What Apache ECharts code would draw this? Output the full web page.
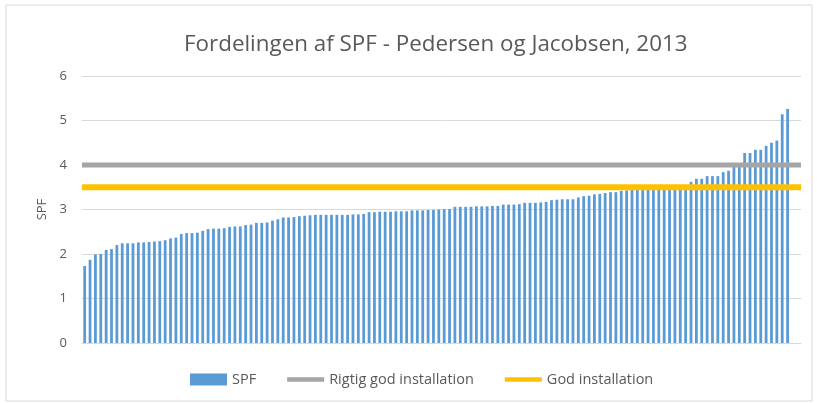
<!DOCTYPE html>
<html>
<head>
<meta charset="utf-8">
<script src="https://cdn.jsdelivr.net/npm/echarts@6/dist/echarts.min.js"></script>
<style>
  html, body { margin: 0; padding: 0; background: #fff; }
  #chart { width: 817px; height: 403px; }
</style>
</head>
<body>
<div id="chart"></div>
<script>
// SPF per installation, sorted
const spfValues = [
    1.73, 1.87, 1.99, 2.00, 2.09, 2.11, 2.20, 2.24, 2.24, 2.24,
    2.26, 2.26, 2.27, 2.28, 2.29, 2.31, 2.35, 2.37, 2.45, 2.47,
    2.47, 2.48, 2.52, 2.56, 2.57, 2.57, 2.58, 2.61, 2.62, 2.62,
    2.65, 2.66, 2.70, 2.70, 2.71, 2.75, 2.78, 2.82, 2.82, 2.83,
    2.85, 2.86, 2.87, 2.88, 2.88, 2.88, 2.88, 2.88, 2.88, 2.88,
    2.89, 2.89, 2.90, 2.94, 2.94, 2.95, 2.95, 2.95, 2.96, 2.96,
    2.96, 2.98, 2.98, 2.98, 2.99, 2.99, 3.00, 3.01, 3.01, 3.06,
    3.06, 3.06, 3.06, 3.07, 3.07, 3.07, 3.08, 3.08, 3.11, 3.11,
    3.11, 3.12, 3.15, 3.15, 3.15, 3.16, 3.17, 3.21, 3.22, 3.23,
    3.23, 3.23, 3.27, 3.30, 3.31, 3.34, 3.35, 3.37, 3.39, 3.39,
    3.42, 3.43, 3.45, 3.46, 3.47, 3.47, 3.48, 3.49, 3.50, 3.50,
    3.51, 3.52, 3.53, 3.62, 3.69, 3.69, 3.75, 3.75, 3.75, 3.84,
    3.87, 3.96, 3.97, 4.27, 4.27, 4.34, 4.34, 4.43, 4.50, 4.55,
    5.14, 5.26
];

// the axis has two empty slots after the last bar
const categoryCount = 134;
const categories = Array.from({ length: categoryCount }, (_, i) => String(i + 1));

const rigtigGodLevel = [4, 4];
const godLevel = [3.5, 3.5];
const levelEnds = ['start', 'end'];

const yTicks = { min: 0, max: 6, interval: 1 };

const textColor = '#595959';
const fontFamily = 'Open Sans';
// thin bar used as legend icon for the two level lines
const lineIcon = 'path://M0,0h40v5h-40z';

const chart = echarts.init(document.getElementById('chart'));

chart.setOption({
    backgroundColor: '#fff',
    animation: false,
    textStyle: { fontFamily: fontFamily, color: textColor },

    title: {
        text: 'Fordelingen af SPF - Pedersen og Jacobsen, 2013',
        left: 179,
        top: 29,
        textStyle: {
            fontFamily: fontFamily,
            fontSize: 22.4,
            fontWeight: 'normal',
            color: textColor
        }
    },

    graphic: [{
        type: 'rect',
        shape: { x: 6, y: 5, width: 806, height: 396 },
        style: { fill: 'none', stroke: '#d9d9d9', lineWidth: 1 },
        silent: true
    }],

    legend: {
        left: 185,
        top: 367,
        itemGap: 31,
        itemWidth: 37,
        itemHeight: 12,
        symbolKeepAspect: true,
        textStyle: { fontFamily: fontFamily, fontSize: 14.5, color: textColor },
        data: [
            { name: 'SPF', icon: 'rect' },
            { name: 'Rigtig god installation', icon: lineIcon },
            { name: 'God installation', icon: lineIcon }
        ]
    },

    grid: {
        left: 82,
        right: 16,
        top: 76,
        bottom: 60,
        containLabel: false
    },

    xAxis: [{
        type: 'category',
        data: categories,
        boundaryGap: true,
        axisLine: { show: true, lineStyle: { color: '#d9d9d9' } },
        axisTick: { show: false },
        axisLabel: { show: false }
    }, {
        type: 'category',
        data: levelEnds,
        boundaryGap: false,
        show: false
    }],

    yAxis: {
        type: 'value',
        min: yTicks.min,
        max: yTicks.max,
        interval: yTicks.interval,
        name: 'SPF',
        nameLocation: 'middle',
        nameGap: 33,
        nameRotate: 90,
        nameTextStyle: { fontFamily: fontFamily, fontSize: 13, color: textColor },
        axisLine: { show: false },
        axisTick: { show: false },
        axisLabel: { fontSize: 13, color: textColor, margin: 15 },
        splitLine: { lineStyle: { color: '#d9d9d9', width: 1 } }
    },

    series: [{
        name: 'SPF',
        type: 'bar',
        data: spfValues,
        barWidth: '52%',
        itemStyle: { color: '#5b9bd5' }
    }, {
        name: 'Rigtig god installation',
        type: 'line',
        xAxisIndex: 1,
        data: rigtigGodLevel,
        symbol: 'none',
        lineStyle: { color: '#a5a5a5', width: 5 },
        itemStyle: { color: '#a5a5a5' },
        z: 3
    }, {
        name: 'God installation',
        type: 'line',
        xAxisIndex: 1,
        data: godLevel,
        symbol: 'none',
        lineStyle: { color: '#ffc000', width: 6 },
        itemStyle: { color: '#ffc000' },
        z: 3
    }]
});
</script>
</body>
</html>
